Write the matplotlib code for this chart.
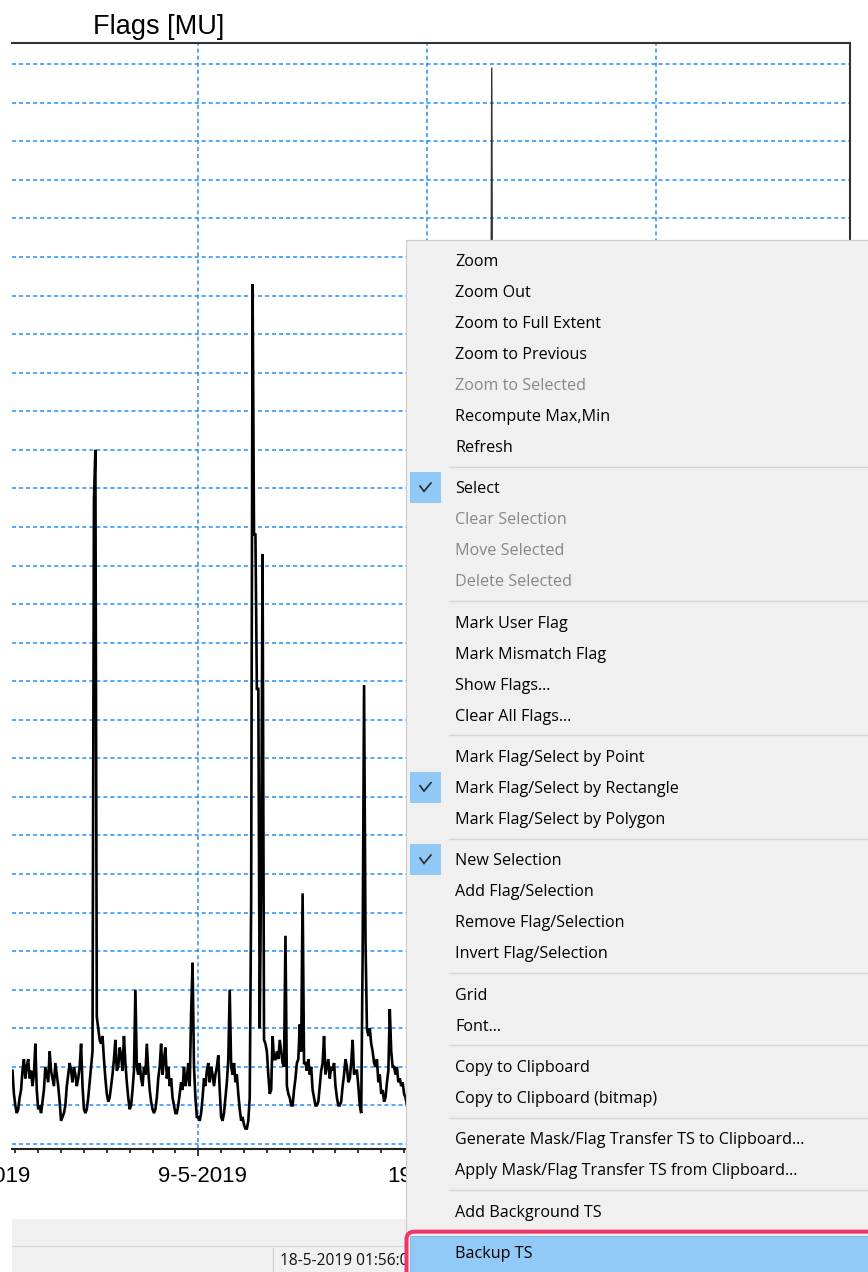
import numpy as np
import pandas as pd
import matplotlib
matplotlib.use("Agg")
import matplotlib.pyplot as plt
import matplotlib.dates as mdates
from matplotlib.patches import Rectangle, FancyBboxPatch
from matplotlib.textpath import TextPath
from matplotlib.font_manager import FontProperties
from matplotlib.transforms import (blended_transform_factory, ScaledTranslation,
                                   Bbox, TransformedBbox, IdentityTransform)

# ---------------- data ----------------
chart_title = "Flags [MU]"
series_start = "2019-04-30 21:00"
series_step = "90min"
flag_values = [
    19, 13, 10, 8, 9, 12, 14, 19, 22, 17, 20, 22, 17, 19, 15, 18, 26, 14, 9, 10,
    8, 11, 14, 20, 18, 16, 24, 19, 17, 15, 21, 18, 15, 11, 6, 7, 8, 10, 15, 18,
    21, 19, 16, 20, 18, 15, 17, 20, 26, 15, 9, 8, 9, 12, 16, 20, 24, 167, 180, 33,
    30, 27, 26, 28, 22, 17, 13, 11, 12, 15, 18, 22, 27, 19, 20, 25, 23, 19, 28, 21,
    16, 12, 9, 10, 14, 19, 40, 20, 18, 21, 17, 15, 20, 18, 26, 19, 14, 11, 9, 8,
    9, 12, 17, 20, 26, 18, 22, 25, 17, 20, 15, 17, 12, 10, 8, 8, 10, 13, 16, 14,
    20, 15, 17, 21, 15, 34, 47, 20, 12, 7, 7, 6, 8, 12, 17, 15, 19, 21, 16, 20,
    18, 15, 18, 20, 23, 14, 7, 6, 8, 12, 16, 22, 40, 20, 18, 21, 16, 18, 13, 9,
    6, 7, 5, 4, 4, 6, 12, 63, 223, 158, 158, 118, 118, 30, 72, 153, 27, 26, 24, 18,
    13, 14, 28, 22, 22, 24, 22, 27, 24, 21, 20, 54, 15, 13, 12, 10, 10, 14, 17, 21,
    22, 31, 24, 65, 21, 21, 19, 22, 18, 20, 14, 12, 10, 10, 11, 15, 19, 21, 28, 18,
    20, 22, 17, 20, 19, 21, 15, 12, 10, 10, 11, 15, 18, 22, 20, 16, 17, 21, 27, 18,
    19, 19, 15, 10, 8, 49, 119, 53, 30, 28, 30, 26, 24, 21, 20, 22, 16, 18, 13, 14,
    11, 12, 16, 19, 35, 24, 20, 20, 18, 20, 16, 17, 15, 16, 13, 12, 10,
]
spike_times = ["2019-05-21 17:00", "2019-05-21 20:00", "2019-05-21 23:00"]
spike_values = [20, 279, 20]
x_limits = ("2019-04-30 20:30", "2019-06-06 12:00")
y_limits = (-1.3, 285.5)
y_grid_step = 10
major_tick_dates = ["2019-04-29", "2019-05-09", "2019-05-19"]
status_text = "18-5-2019 01:56:09"

menu_groups = [
    [("Zoom", "n"), ("Zoom Out", "n"), ("Zoom to Full Extent", "n"),
     ("Zoom to Previous", "n"), ("Zoom to Selected", "d"),
     ("Recompute Max,Min", "n"), ("Refresh", "n")],
    [("Select", "c"), ("Clear Selection", "d"), ("Move Selected", "d"),
     ("Delete Selected", "d")],
    [("Mark User Flag", "n"), ("Mark Mismatch Flag", "n"),
     ("Show Flags...", "n"), ("Clear All Flags...", "n")],
    [("Mark Flag/Select by Point", "n"), ("Mark Flag/Select by Rectangle", "c"),
     ("Mark Flag/Select by Polygon", "n")],
    [("New Selection", "c"), ("Add Flag/Selection", "n"),
     ("Remove Flag/Selection", "n"), ("Invert Flag/Selection", "n")],
    [("Grid", "n"), ("Font...", "n")],
    [("Copy to Clipboard", "n"), ("Copy to Clipboard (bitmap)", "n")],
    [("Generate Mask/Flag Transfer TS to Clipboard...", "n"),
     ("Apply Mask/Flag Transfer TS from Clipboard...", "n")],
    [("Add Background TS", "n")],
    [("Backup TS", "h")],
]

# ---------------- figure ----------------
W, H, DPI = 868, 1272, 100
fig = plt.figure(figsize=(W / DPI, H / DPI), dpi=DPI)
fig.patch.set_facecolor("white")

ax_l, ax_r, ax_t, ax_b = 12, 850, 43, 1149
ax = fig.add_axes([ax_l / W, 1 - ax_b / H, (ax_r - ax_l) / W, (ax_b - ax_t) / H])

times = pd.date_range(series_start, periods=len(flag_values), freq=series_step)
ax.plot(times, flag_values, color="black", lw=1.9, solid_joinstyle="miter", zorder=3)
ax.plot(pd.to_datetime(spike_times), spike_values, color="#333333", lw=1.0, zorder=3)

ax.set_xlim(pd.Timestamp(x_limits[0]), pd.Timestamp(x_limits[1]))
ax.set_ylim(*y_limits)
ax.set_yticks(np.arange(0, 281, y_grid_step))
ax.xaxis.set_major_locator(mdates.DayLocator(bymonthday=[9, 19, 29]))
ax.xaxis.set_minor_locator(mdates.DayLocator())
ax.tick_params(axis="y", length=0, labelleft=False)
ax.tick_params(axis="x", which="major", length=5, width=1.1, color="black",
               labelbottom=False)
ax.tick_params(axis="x", which="minor", length=3, width=1.1, color="black")
grid_kw = dict(color="#1E90FF", linestyle=(0, (2.6, 2.0)), linewidth=1.1)
ax.grid(True, which="major", axis="both", **grid_kw)
ax.set_axisbelow(True)
ax.spines["left"].set_visible(False)
for s in ("top", "right"):
    ax.spines[s].set_color("#333333")
    ax.spines[s].set_linewidth(1.5)
ax.spines["bottom"].set_color("#222222")
ax.spines["bottom"].set_linewidth(1.5)

# date labels (left aligned 40 px before the tick, as in the reference);
# the part hidden behind the context menu is clipped
menu_left = 406
label_clip = TransformedBbox(Bbox([[0, 0], [menu_left, H]]), IdentityTransform())
trans = blended_transform_factory(ax.transData, ax.transAxes) + \
    ScaledTranslation(-40 / DPI, 0, fig.dpi_scale_trans)
for d in major_tick_dates:
    ts = pd.Timestamp(d)
    t = ax.text(mdates.date2num(ts), -33 / (ax_b - ax_t),
                f"{ts.day}-{ts.month}-{ts.year}",
                transform=trans, ha="left", va="baseline", fontsize=16,
                family=["Liberation Sans", "DejaVu Sans"])
    t.set_clip_on(True)
    t.set_clip_box(label_clip)

fig.text(93 / W, 1 - 34 / H, chart_title, fontsize=19.5,
         family=["Liberation Sans", "DejaVu Sans"], ha="left", va="baseline")

# ---------------- overlay (window chrome + context menu) ----------------
ov = fig.add_axes([0, 0, 1, 1], zorder=10)
ov.set_xlim(0, W)
ov.set_ylim(H, 0)
ov.axis("off")
ov.patch.set_alpha(0)
PX = 72 / DPI  # points per pixel

# status bar area
ov.add_patch(Rectangle((12, 1219), W, 60, facecolor="#F0F0F0", edgecolor="none", zorder=1))
ov.plot([12, W], [1246, 1246], color="#D9D9D9", lw=1.2 * PX, zorder=2)
ov.plot([273, 273], [1248, H], color="#CFCFCF", lw=1.2 * PX, zorder=2)

menu_family = ["Open Sans", "DejaVu Sans"]
fp = FontProperties(family="Open Sans")
ref_a = "Generate Mask/Flag Transfer TS to Clipboard..."
ref_b = "Zoom to Full Extent"
wa = TextPath((0, 0), ref_a, size=10, prop=fp).get_extents().width
wb = TextPath((0, 0), ref_b, size=10, prop=fp).get_extents().width
fs_a = 345 / (wa / 10 / PX)
fs_b = 146 / (wb / 10 / PX)
menu_fs = (fs_a + fs_b) / 2

st = ov.text(280, 1265, status_text, fontsize=menu_fs * 0.96, family=menu_family,
             ha="left", va="baseline", color="#111111", zorder=3)
st.set_clip_on(True)
st.set_clip_box(label_clip)

# menu body
mx0, my0 = menu_left, 240
ov.add_patch(Rectangle((mx0, my0), W - mx0 + 20, H - my0 + 20,
                       facecolor="#F0F0F0", edgecolor="#CCCCCC", lw=1.2 * PX, zorder=5))

item_step = 31
group_gap = 41.35
y = 260.0
first = True
for group in menu_groups:
    for ii, (label, kind) in enumerate(group):
        if ii > 0:
            y += item_step
        elif not first:
            prev_y = y
            y += group_gap
            sy = (prev_y + y) / 2
            if kind != "h":
                ov.plot([449, W], [sy, sy], color="#D5D5D5", lw=1.3 * PX, zorder=6)
        first = False
        if kind == "h":
            ov.add_patch(Rectangle((410, y - 16), W, 40, facecolor="#91C9F7",
                                   edgecolor="#7FB7E6", lw=1 * PX, zorder=6))
            ov.add_patch(FancyBboxPatch((406.5, y - 20.5), W, 60,
                                        boxstyle="round,pad=0,rounding_size=8",
                                        facecolor="none", edgecolor="#EE3468",
                                        lw=4 * PX, zorder=8))
        if kind == "c":
            ov.add_patch(Rectangle((410, y - 15.5), 31, 31, facecolor="#90C8F6",
                                   edgecolor="none", zorder=6))
            ov.plot([419.5, 424, 431.5], [y - 2, y + 4, y - 5], color="#2B2B2B",
                    lw=1.7 * PX, solid_joinstyle="miter", solid_capstyle="butt", zorder=7)
        color = "#878787" if kind == "d" else "#000000"
        ov.text(455, y + 6, label, fontsize=menu_fs, family=menu_family,
                ha="left", va="baseline", color=color, zorder=9)

fig.savefig("out.png", dpi=DPI)
